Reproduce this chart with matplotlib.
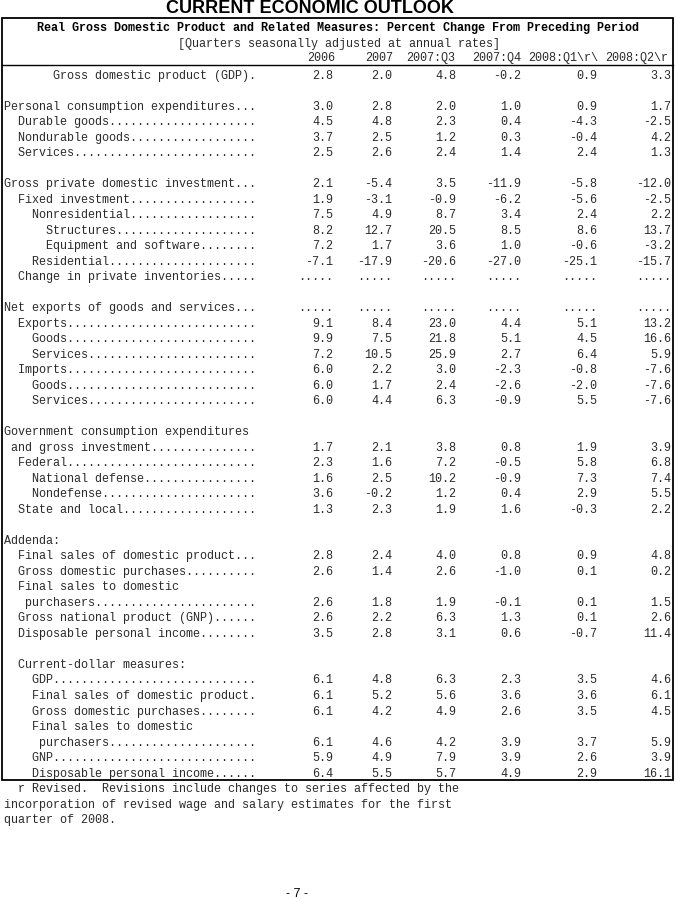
import numpy as np
import matplotlib
matplotlib.use('Agg')
import matplotlib.pyplot as plt

NA = np.nan

col_heads = ['2006', '2007', '2007:Q3', '2007:Q4', '2008:Q1\\r\\', '2008:Q2\\r']

row_labels = [
    '       Gross domestic product (GDP)',
    '',
    'Personal consumption expenditures',
    '  Durable goods',
    '  Nondurable goods',
    '  Services',
    '',
    'Gross private domestic investment',
    '  Fixed investment',
    '    Nonresidential',
    '      Structures',
    '      Equipment and software',
    '    Residential',
    '  Change in private inventories',
    '',
    'Net exports of goods and services',
    '  Exports',
    '    Goods',
    '    Services',
    '  Imports',
    '    Goods',
    '    Services',
    '',
    'Government consumption expenditures',
    ' and gross investment',
    '  Federal',
    '    National defense',
    '    Nondefense',
    '  State and local',
    '',
    'Addenda:',
    '  Final sales of domestic product',
    '  Gross domestic purchases',
    '  Final sales to domestic',
    '   purchasers',
    '  Gross national product (GNP)',
    '  Disposable personal income',
    '',
    '  Current-dollar measures:',
    '    GDP',
    '    Final sales of domestic product',
    '    Gross domestic purchases',
    '    Final sales to domestic',
    '     purchasers',
    '    GNP',
    '    Disposable personal income',
]

v2006 = [2.8, None, 3.0, 4.5, 3.7, 2.5, None, 2.1, 1.9, 7.5, 8.2, 7.2, -7.1, NA, None,
         NA, 9.1, 9.9, 7.2, 6.0, 6.0, 6.0, None, None, 1.7, 2.3, 1.6, 3.6, 1.3, None,
         None, 2.8, 2.6, None, 2.6, 2.6, 3.5, None, None, 6.1, 6.1, 6.1, None, 6.1, 5.9, 6.4]
v2007 = [2.0, None, 2.8, 4.8, 2.5, 2.6, None, -5.4, -3.1, 4.9, 12.7, 1.7, -17.9, NA, None,
         NA, 8.4, 7.5, 10.5, 2.2, 1.7, 4.4, None, None, 2.1, 1.6, 2.5, -0.2, 2.3, None,
         None, 2.4, 1.4, None, 1.8, 2.2, 2.8, None, None, 4.8, 5.2, 4.2, None, 4.6, 4.9, 5.5]
v2007q3 = [4.8, None, 2.0, 2.3, 1.2, 2.4, None, 3.5, -0.9, 8.7, 20.5, 3.6, -20.6, NA, None,
           NA, 23.0, 21.8, 25.9, 3.0, 2.4, 6.3, None, None, 3.8, 7.2, 10.2, 1.2, 1.9, None,
           None, 4.0, 2.6, None, 1.9, 6.3, 3.1, None, None, 6.3, 5.6, 4.9, None, 4.2, 7.9, 5.7]
v2007q4 = [-0.2, None, 1.0, 0.4, 0.3, 1.4, None, -11.9, -6.2, 3.4, 8.5, 1.0, -27.0, NA, None,
           NA, 4.4, 5.1, 2.7, -2.3, -2.6, -0.9, None, None, 0.8, -0.5, -0.9, 0.4, 1.6, None,
           None, 0.8, -1.0, None, -0.1, 1.3, 0.6, None, None, 2.3, 3.6, 2.6, None, 3.9, 3.9, 4.9]
v2008q1 = [0.9, None, 0.9, -4.3, -0.4, 2.4, None, -5.8, -5.6, 2.4, 8.6, -0.6, -25.1, NA, None,
           NA, 5.1, 4.5, 6.4, -0.8, -2.0, 5.5, None, None, 1.9, 5.8, 7.3, 2.9, -0.3, None,
           None, 0.9, 0.1, None, 0.1, 0.1, -0.7, None, None, 3.5, 3.6, 3.5, None, 3.7, 2.6, 2.9]
v2008q2 = [3.3, None, 1.7, -2.5, 4.2, 1.3, None, -12.0, -2.5, 2.2, 13.7, -3.2, -15.7, NA, None,
           NA, 13.2, 16.6, 5.9, -7.6, -7.6, -7.6, None, None, 3.9, 6.8, 7.4, 5.5, 2.2, None,
           None, 4.8, 0.2, None, 1.5, 2.6, 11.4, None, None, 4.6, 6.1, 4.5, None, 5.9, 3.9, 16.1]

columns = [v2006, v2007, v2007q3, v2007q4, v2008q1, v2008q2]

footnote = ['  r Revised.  Revisions include changes to series affected by the',
            'incorporation of revised wage and salary estimates for the first',
            'quarter of 2008.']

title = 'CURRENT ECONOMIC OUTLOOK'
table_title = 'Real Gross Domestic Product and Related Measures: Percent Change From Preceding Period'
table_sub = '[Quarters seasonally adjusted at annual rates]'

#------------------------------------------------------------------------------

mono = 'Liberation Mono'
fs = 8.5
tc = '#2a2a2a'
col_x = [333, 392, 456, 521, 597, 671]
head_x = [335, 393, 455, 521, 598, 668]
x0 = 3.5
y0 = 75
dy = 15.51
base = 3.6

fig = plt.figure(figsize=(6.76, 8.99), dpi=100)
ax = fig.add_axes([0, 0, 1, 1])
ax.set_xlim(0, 676)
ax.set_ylim(899, 0)
ax.axis('off')

ax.text(310, 8.5, title, family='Liberation Sans', fontweight='bold', fontsize=13,
        ha='center', va='center')

ax.add_patch(plt.Rectangle((1.5, 17.5), 671, 762.5, fill=False, lw=1.3, ec='black'))
ax.plot([1.5, 672.5], [65, 65], color='black', lw=1.0)

ax.text(338, 31.5, table_title, family=mono, fontweight='bold', fontsize=fs, ha='center', va='baseline')
ax.text(339, 47.5, table_sub, family=mono, fontsize=fs, color=tc, ha='center', va='baseline')
for h, x in zip(col_heads, head_x):
    ax.text(x, 61, h, family=mono, fontsize=fs, color=tc, ha='right', va='baseline')

for i, lab in enumerate(row_labels):
    y = y0 + i * dy + base
    if columns[0][i] is not None:
        lab = lab.ljust(36, '.')
    if lab:
        ax.text(x0, y, lab, family=mono, fontsize=fs, color=tc, ha='left', va='baseline')
    for col, x in zip(columns, col_x):
        v = col[i]
        if v is None:
            continue
        s = '.....' if np.isnan(v) else f'{v:.1f}'
        ax.text(x, y, s, family=mono, fontsize=fs, color=tc, ha='right', va='baseline')

for j, line in enumerate(footnote):
    y = y0 + (len(row_labels) + j) * dy + base
    ax.text(x0, y, line, family=mono, fontsize=fs, color=tc, ha='left', va='baseline')

ax.text(297, 897, '- 7 -', family='Liberation Sans', fontsize=9, ha='center', va='baseline')

plt.savefig('out.png', dpi=100)
